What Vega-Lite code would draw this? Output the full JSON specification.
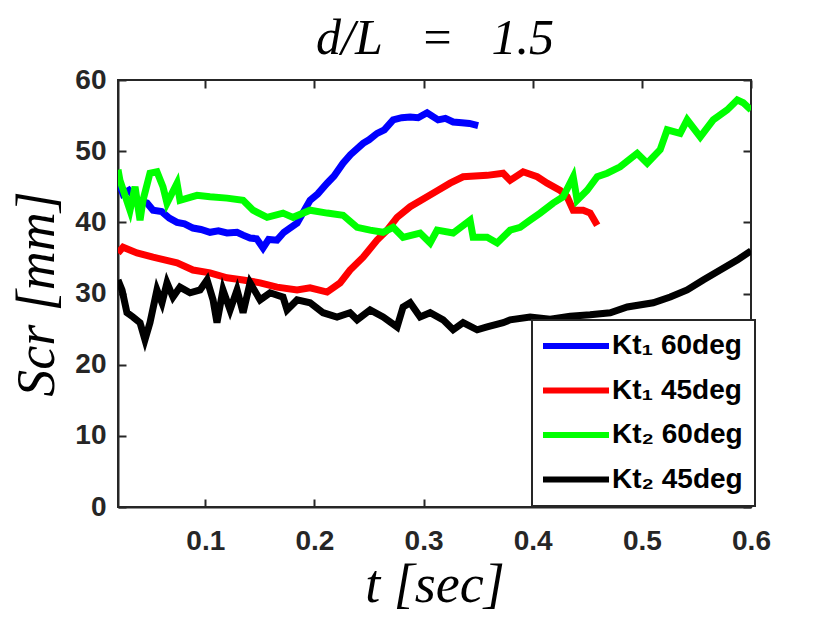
{
  "$schema": "https://vega.github.io/schema/vega-lite/v6.json",
  "width": 633,
  "height": 427,
  "autosize": "none",
  "padding": {"left": 118, "top": 80, "right": 79, "bottom": 116},
  "background": "white",
  "config": {
    "view": {"stroke": "#262626", "strokeWidth": 2},
    "axis": {
      "grid": false,
      "domainColor": "#262626",
      "domainWidth": 2,
      "tickColor": "#262626",
      "tickWidth": 2,
      "tickSize": -8,
      "labelFont": "Liberation Sans",
      "labelFontWeight": "bold",
      "labelFontSize": 28,
      "labelColor": "#262626",
      "labelFlush": false,
      "labelOverlap": false,
      "titleFont": "Liberation Serif",
      "titleFontStyle": "italic",
      "titleFontWeight": "normal",
      "titleFontSize": 54,
      "titleColor": "black"
    },
    "legend": {
      "strokeColor": "#262626",
      "strokeWidth": 2,
      "fillColor": "white",
      "cornerRadius": 0
    }
  },
  "data": {"values": [
    {"series": "Kt₁ 60deg", "t": 0.02, "s": 46.0},
    {"series": "Kt₁ 60deg", "t": 0.0246, "s": 44.0},
    {"series": "Kt₁ 60deg", "t": 0.03, "s": 44.5},
    {"series": "Kt₁ 60deg", "t": 0.037, "s": 43.2},
    {"series": "Kt₁ 60deg", "t": 0.0466, "s": 42.7},
    {"series": "Kt₁ 60deg", "t": 0.0521, "s": 41.7},
    {"series": "Kt₁ 60deg", "t": 0.06, "s": 41.5},
    {"series": "Kt₁ 60deg", "t": 0.067, "s": 40.6},
    {"series": "Kt₁ 60deg", "t": 0.0741, "s": 40.0},
    {"series": "Kt₁ 60deg", "t": 0.081, "s": 39.8},
    {"series": "Kt₁ 60deg", "t": 0.0887, "s": 39.2},
    {"series": "Kt₁ 60deg", "t": 0.096, "s": 39.0},
    {"series": "Kt₁ 60deg", "t": 0.1043, "s": 38.6},
    {"series": "Kt₁ 60deg", "t": 0.112, "s": 38.8},
    {"series": "Kt₁ 60deg", "t": 0.1199, "s": 38.5},
    {"series": "Kt₁ 60deg", "t": 0.1291, "s": 38.6},
    {"series": "Kt₁ 60deg", "t": 0.1346, "s": 38.2},
    {"series": "Kt₁ 60deg", "t": 0.141, "s": 37.8},
    {"series": "Kt₁ 60deg", "t": 0.147, "s": 37.7},
    {"series": "Kt₁ 60deg", "t": 0.1529, "s": 36.4},
    {"series": "Kt₁ 60deg", "t": 0.158, "s": 37.6},
    {"series": "Kt₁ 60deg", "t": 0.1657, "s": 37.5},
    {"series": "Kt₁ 60deg", "t": 0.172, "s": 38.6},
    {"series": "Kt₁ 60deg", "t": 0.1841, "s": 39.9},
    {"series": "Kt₁ 60deg", "t": 0.19, "s": 41.5},
    {"series": "Kt₁ 60deg", "t": 0.196, "s": 43.1},
    {"series": "Kt₁ 60deg", "t": 0.203, "s": 44.0},
    {"series": "Kt₁ 60deg", "t": 0.2116, "s": 45.5},
    {"series": "Kt₁ 60deg", "t": 0.218, "s": 46.5},
    {"series": "Kt₁ 60deg", "t": 0.2262, "s": 48.3},
    {"series": "Kt₁ 60deg", "t": 0.233, "s": 49.5},
    {"series": "Kt₁ 60deg", "t": 0.2446, "s": 51.1},
    {"series": "Kt₁ 60deg", "t": 0.25, "s": 51.6},
    {"series": "Kt₁ 60deg", "t": 0.2574, "s": 52.5},
    {"series": "Kt₁ 60deg", "t": 0.264, "s": 53.0},
    {"series": "Kt₁ 60deg", "t": 0.2721, "s": 54.4},
    {"series": "Kt₁ 60deg", "t": 0.28, "s": 54.7},
    {"series": "Kt₁ 60deg", "t": 0.2877, "s": 54.8},
    {"series": "Kt₁ 60deg", "t": 0.295, "s": 54.7},
    {"series": "Kt₁ 60deg", "t": 0.3032, "s": 55.4},
    {"series": "Kt₁ 60deg", "t": 0.3133, "s": 54.4},
    {"series": "Kt₁ 60deg", "t": 0.32, "s": 54.6},
    {"series": "Kt₁ 60deg", "t": 0.3271, "s": 54.1},
    {"series": "Kt₁ 60deg", "t": 0.335, "s": 54.0},
    {"series": "Kt₁ 60deg", "t": 0.342, "s": 53.9},
    {"series": "Kt₁ 60deg", "t": 0.35, "s": 53.6},

    {"series": "Kt₁ 45deg", "t": 0.02, "s": 35.7},
    {"series": "Kt₁ 45deg", "t": 0.0246, "s": 36.5},
    {"series": "Kt₁ 45deg", "t": 0.0374, "s": 35.7},
    {"series": "Kt₁ 45deg", "t": 0.0521, "s": 35.1},
    {"series": "Kt₁ 45deg", "t": 0.0741, "s": 34.3},
    {"series": "Kt₁ 45deg", "t": 0.0887, "s": 33.3},
    {"series": "Kt₁ 45deg", "t": 0.1043, "s": 32.9},
    {"series": "Kt₁ 45deg", "t": 0.1199, "s": 32.2},
    {"series": "Kt₁ 45deg", "t": 0.1346, "s": 31.9},
    {"series": "Kt₁ 45deg", "t": 0.1502, "s": 31.5},
    {"series": "Kt₁ 45deg", "t": 0.1657, "s": 30.9},
    {"series": "Kt₁ 45deg", "t": 0.1841, "s": 30.5},
    {"series": "Kt₁ 45deg", "t": 0.196, "s": 30.8},
    {"series": "Kt₁ 45deg", "t": 0.2116, "s": 30.2},
    {"series": "Kt₁ 45deg", "t": 0.2235, "s": 31.5},
    {"series": "Kt₁ 45deg", "t": 0.2326, "s": 33.3},
    {"series": "Kt₁ 45deg", "t": 0.2446, "s": 35.1},
    {"series": "Kt₁ 45deg", "t": 0.2574, "s": 37.5},
    {"series": "Kt₁ 45deg", "t": 0.2666, "s": 38.9},
    {"series": "Kt₁ 45deg", "t": 0.2757, "s": 40.7},
    {"series": "Kt₁ 45deg", "t": 0.2877, "s": 42.2},
    {"series": "Kt₁ 45deg", "t": 0.3032, "s": 43.6},
    {"series": "Kt₁ 45deg", "t": 0.3133, "s": 44.5},
    {"series": "Kt₁ 45deg", "t": 0.3243, "s": 45.5},
    {"series": "Kt₁ 45deg", "t": 0.3362, "s": 46.4},
    {"series": "Kt₁ 45deg", "t": 0.3582, "s": 46.6},
    {"series": "Kt₁ 45deg", "t": 0.3729, "s": 46.9},
    {"series": "Kt₁ 45deg", "t": 0.3793, "s": 45.9},
    {"series": "Kt₁ 45deg", "t": 0.3912, "s": 47.1},
    {"series": "Kt₁ 45deg", "t": 0.4041, "s": 46.4},
    {"series": "Kt₁ 45deg", "t": 0.4132, "s": 45.5},
    {"series": "Kt₁ 45deg", "t": 0.4251, "s": 44.5},
    {"series": "Kt₁ 45deg", "t": 0.4315, "s": 43.6},
    {"series": "Kt₁ 45deg", "t": 0.4371, "s": 41.7},
    {"series": "Kt₁ 45deg", "t": 0.4462, "s": 41.7},
    {"series": "Kt₁ 45deg", "t": 0.4526, "s": 41.3},
    {"series": "Kt₁ 45deg", "t": 0.4591, "s": 39.6},

    {"series": "Kt₂ 60deg", "t": 0.02, "s": 47.4},
    {"series": "Kt₂ 60deg", "t": 0.0218, "s": 45.9},
    {"series": "Kt₂ 60deg", "t": 0.031, "s": 41.7},
    {"series": "Kt₂ 60deg", "t": 0.0356, "s": 45.0},
    {"series": "Kt₂ 60deg", "t": 0.0402, "s": 40.3},
    {"series": "Kt₂ 60deg", "t": 0.0429, "s": 43.1},
    {"series": "Kt₂ 60deg", "t": 0.0493, "s": 46.9},
    {"series": "Kt₂ 60deg", "t": 0.0557, "s": 47.1},
    {"series": "Kt₂ 60deg", "t": 0.0612, "s": 45.0},
    {"series": "Kt₂ 60deg", "t": 0.0649, "s": 42.7},
    {"series": "Kt₂ 60deg", "t": 0.0741, "s": 45.5},
    {"series": "Kt₂ 60deg", "t": 0.0768, "s": 43.1},
    {"series": "Kt₂ 60deg", "t": 0.0924, "s": 43.8},
    {"series": "Kt₂ 60deg", "t": 0.1043, "s": 43.6},
    {"series": "Kt₂ 60deg", "t": 0.1199, "s": 43.4},
    {"series": "Kt₂ 60deg", "t": 0.1346, "s": 43.1},
    {"series": "Kt₂ 60deg", "t": 0.1437, "s": 41.7},
    {"series": "Kt₂ 60deg", "t": 0.1566, "s": 40.7},
    {"series": "Kt₂ 60deg", "t": 0.1712, "s": 41.3},
    {"series": "Kt₂ 60deg", "t": 0.1804, "s": 40.7},
    {"series": "Kt₂ 60deg", "t": 0.196, "s": 41.7},
    {"series": "Kt₂ 60deg", "t": 0.2116, "s": 41.3},
    {"series": "Kt₂ 60deg", "t": 0.2262, "s": 41.0},
    {"series": "Kt₂ 60deg", "t": 0.2391, "s": 39.3},
    {"series": "Kt₂ 60deg", "t": 0.251, "s": 38.9},
    {"series": "Kt₂ 60deg", "t": 0.2629, "s": 38.6},
    {"series": "Kt₂ 60deg", "t": 0.2721, "s": 39.3},
    {"series": "Kt₂ 60deg", "t": 0.2812, "s": 37.9},
    {"series": "Kt₂ 60deg", "t": 0.2968, "s": 38.5},
    {"series": "Kt₂ 60deg", "t": 0.306, "s": 37.1},
    {"series": "Kt₂ 60deg", "t": 0.3124, "s": 38.9},
    {"series": "Kt₂ 60deg", "t": 0.3271, "s": 38.5},
    {"series": "Kt₂ 60deg", "t": 0.3426, "s": 40.3},
    {"series": "Kt₂ 60deg", "t": 0.3454, "s": 37.9},
    {"series": "Kt₂ 60deg", "t": 0.3582, "s": 37.9},
    {"series": "Kt₂ 60deg", "t": 0.3674, "s": 37.1},
    {"series": "Kt₂ 60deg", "t": 0.3793, "s": 38.9},
    {"series": "Kt₂ 60deg", "t": 0.3885, "s": 39.3},
    {"series": "Kt₂ 60deg", "t": 0.3976, "s": 40.3},
    {"series": "Kt₂ 60deg", "t": 0.4068, "s": 41.3},
    {"series": "Kt₂ 60deg", "t": 0.4187, "s": 42.7},
    {"series": "Kt₂ 60deg", "t": 0.4279, "s": 43.6},
    {"series": "Kt₂ 60deg", "t": 0.4371, "s": 46.4},
    {"series": "Kt₂ 60deg", "t": 0.4407, "s": 43.1},
    {"series": "Kt₂ 60deg", "t": 0.4499, "s": 44.5},
    {"series": "Kt₂ 60deg", "t": 0.4591, "s": 46.4},
    {"series": "Kt₂ 60deg", "t": 0.4682, "s": 46.9},
    {"series": "Kt₂ 60deg", "t": 0.4801, "s": 47.8},
    {"series": "Kt₂ 60deg", "t": 0.4957, "s": 49.7},
    {"series": "Kt₂ 60deg", "t": 0.5049, "s": 48.3},
    {"series": "Kt₂ 60deg", "t": 0.5168, "s": 50.2},
    {"series": "Kt₂ 60deg", "t": 0.5232, "s": 53.0},
    {"series": "Kt₂ 60deg", "t": 0.5351, "s": 52.5},
    {"series": "Kt₂ 60deg", "t": 0.5415, "s": 54.4},
    {"series": "Kt₂ 60deg", "t": 0.5535, "s": 52.0},
    {"series": "Kt₂ 60deg", "t": 0.5654, "s": 54.4},
    {"series": "Kt₂ 60deg", "t": 0.5782, "s": 55.8},
    {"series": "Kt₂ 60deg", "t": 0.5874, "s": 57.2},
    {"series": "Kt₂ 60deg", "t": 0.5929, "s": 56.8},
    {"series": "Kt₂ 60deg", "t": 0.6, "s": 55.8},

    {"series": "Kt₂ 45deg", "t": 0.02, "s": 31.9},
    {"series": "Kt₂ 45deg", "t": 0.0237, "s": 30.5},
    {"series": "Kt₂ 45deg", "t": 0.0282, "s": 27.3},
    {"series": "Kt₂ 45deg", "t": 0.0337, "s": 26.7},
    {"series": "Kt₂ 45deg", "t": 0.0402, "s": 25.9},
    {"series": "Kt₂ 45deg", "t": 0.0447, "s": 23.5},
    {"series": "Kt₂ 45deg", "t": 0.0493, "s": 25.9},
    {"series": "Kt₂ 45deg", "t": 0.0557, "s": 30.5},
    {"series": "Kt₂ 45deg", "t": 0.0603, "s": 28.7},
    {"series": "Kt₂ 45deg", "t": 0.0649, "s": 31.5},
    {"series": "Kt₂ 45deg", "t": 0.0704, "s": 29.5},
    {"series": "Kt₂ 45deg", "t": 0.0768, "s": 30.9},
    {"series": "Kt₂ 45deg", "t": 0.086, "s": 30.1},
    {"series": "Kt₂ 45deg", "t": 0.0952, "s": 30.5},
    {"series": "Kt₂ 45deg", "t": 0.1016, "s": 31.9},
    {"series": "Kt₂ 45deg", "t": 0.1071, "s": 29.1},
    {"series": "Kt₂ 45deg", "t": 0.1107, "s": 25.9},
    {"series": "Kt₂ 45deg", "t": 0.1162, "s": 30.5},
    {"series": "Kt₂ 45deg", "t": 0.1227, "s": 27.7},
    {"series": "Kt₂ 45deg", "t": 0.1291, "s": 30.5},
    {"series": "Kt₂ 45deg", "t": 0.1346, "s": 27.3},
    {"series": "Kt₂ 45deg", "t": 0.141, "s": 31.5},
    {"series": "Kt₂ 45deg", "t": 0.1502, "s": 29.1},
    {"series": "Kt₂ 45deg", "t": 0.1593, "s": 30.1},
    {"series": "Kt₂ 45deg", "t": 0.1712, "s": 29.5},
    {"series": "Kt₂ 45deg", "t": 0.1749, "s": 27.7},
    {"series": "Kt₂ 45deg", "t": 0.1841, "s": 29.1},
    {"series": "Kt₂ 45deg", "t": 0.196, "s": 28.7},
    {"series": "Kt₂ 45deg", "t": 0.2079, "s": 27.3},
    {"series": "Kt₂ 45deg", "t": 0.2207, "s": 26.7},
    {"series": "Kt₂ 45deg", "t": 0.2326, "s": 27.3},
    {"series": "Kt₂ 45deg", "t": 0.2391, "s": 26.3},
    {"series": "Kt₂ 45deg", "t": 0.251, "s": 27.7},
    {"series": "Kt₂ 45deg", "t": 0.2629, "s": 26.7},
    {"series": "Kt₂ 45deg", "t": 0.2757, "s": 25.3},
    {"series": "Kt₂ 45deg", "t": 0.2812, "s": 28.1},
    {"series": "Kt₂ 45deg", "t": 0.2877, "s": 28.7},
    {"series": "Kt₂ 45deg", "t": 0.2968, "s": 26.7},
    {"series": "Kt₂ 45deg", "t": 0.306, "s": 27.3},
    {"series": "Kt₂ 45deg", "t": 0.3179, "s": 26.3},
    {"series": "Kt₂ 45deg", "t": 0.3271, "s": 24.9},
    {"series": "Kt₂ 45deg", "t": 0.3362, "s": 25.9},
    {"series": "Kt₂ 45deg", "t": 0.3491, "s": 24.9},
    {"series": "Kt₂ 45deg", "t": 0.3582, "s": 25.3},
    {"series": "Kt₂ 45deg", "t": 0.3729, "s": 25.9},
    {"series": "Kt₂ 45deg", "t": 0.3793, "s": 26.3},
    {"series": "Kt₂ 45deg", "t": 0.3976, "s": 26.7},
    {"series": "Kt₂ 45deg", "t": 0.416, "s": 26.4},
    {"series": "Kt₂ 45deg", "t": 0.4343, "s": 26.8},
    {"series": "Kt₂ 45deg", "t": 0.4526, "s": 27.0},
    {"series": "Kt₂ 45deg", "t": 0.471, "s": 27.3},
    {"series": "Kt₂ 45deg", "t": 0.4866, "s": 28.1},
    {"series": "Kt₂ 45deg", "t": 0.5104, "s": 28.7},
    {"series": "Kt₂ 45deg", "t": 0.526, "s": 29.5},
    {"series": "Kt₂ 45deg", "t": 0.5415, "s": 30.5},
    {"series": "Kt₂ 45deg", "t": 0.5562, "s": 31.9},
    {"series": "Kt₂ 45deg", "t": 0.5718, "s": 33.3},
    {"series": "Kt₂ 45deg", "t": 0.5874, "s": 34.7},
    {"series": "Kt₂ 45deg", "t": 0.6, "s": 36.0}
  ]},
  "resolve": {"axis": {"x": "independent", "y": "independent"}},
  "layer": [
    {
      "mark": {"type": "line", "strokeWidth": 7, "clip": true},
      "encoding": {
        "x": {"field": "t", "type": "quantitative",
              "scale": {"domain": [0.02, 0.6], "nice": false, "zero": false},
              "axis": {"values": [0.1, 0.2, 0.3, 0.4, 0.5, 0.6], "format": ".1f", "title": "t [sec]", "labelPadding": 28, "titlePadding": 3}},
        "y": {"field": "s", "type": "quantitative",
              "scale": {"domain": [0, 60], "nice": false},
              "axis": {"values": [0, 10, 20, 30, 40, 50, 60], "title": "Scr [mm]", "labelPadding": 20, "titlePadding": 10}},
        "color": {"field": "series", "type": "nominal",
                  "scale": {"domain": ["Kt₁ 60deg", "Kt₁ 45deg", "Kt₂ 60deg", "Kt₂ 45deg"], "range": ["#0000FF", "#FF0000", "#00FF00", "#000000"]},
                  "legend": {"orient": "none", "legendX": 414, "legendY": 240, "title": null,
                             "symbolType": "M-1.5,0H5.1", "symbolSize": 400, "symbolStrokeWidth": 6,
                             "labelFont": "Liberation Sans", "labelFontWeight": "bold", "labelFontSize": 28, "labelColor": "black",
                             "labelOffset": 40, "padding": 12, "rowPadding": 16.5}}
      }
    },
    {
      "mark": {"type": "line", "strokeOpacity": 0},
      "encoding": {
        "x": {"field": "t", "type": "quantitative",
              "axis": {"orient": "top", "values": [0.1, 0.2, 0.3, 0.4, 0.5, 0.6], "labels": false, "domain": false,
                       "title": "d/L\u00a0\u00a0\u00a0=\u00a0\u00a0\u00a01.5", "titleFontSize": 50, "titlePadding": 16}},
        "y": {"field": "s", "type": "quantitative",
              "axis": {"orient": "right", "values": [0, 10, 20, 30, 40, 50, 60], "labels": false, "title": null, "domain": false}}
      }
    }
  ]
}
